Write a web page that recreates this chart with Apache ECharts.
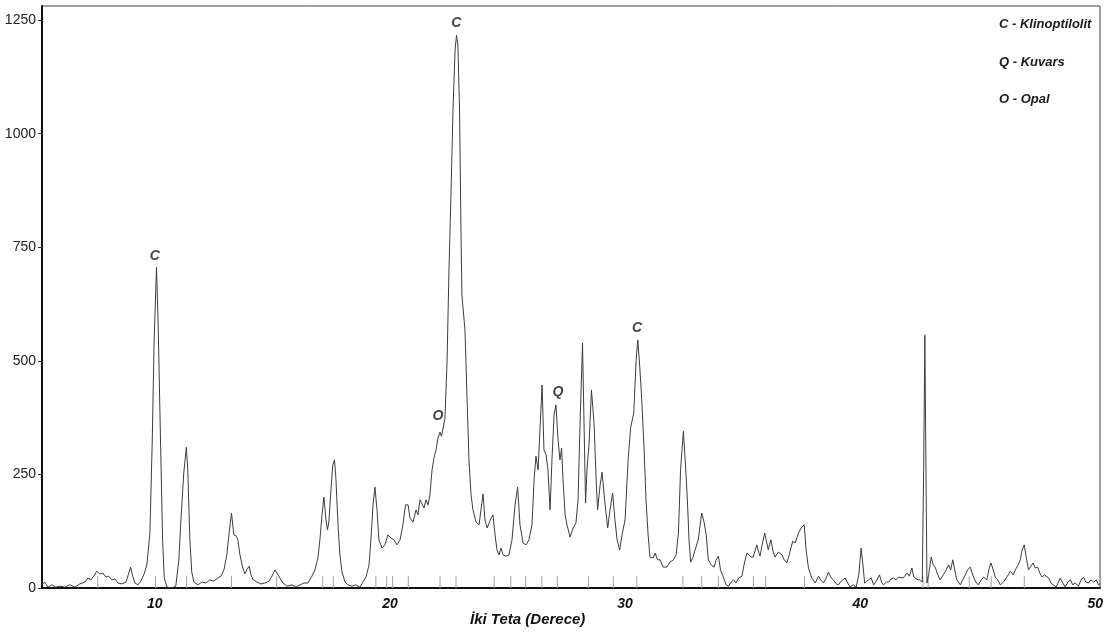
<!DOCTYPE html>
<html>
<head>
<meta charset="utf-8">
<script src="https://cdn.jsdelivr.net/npm/echarts@6/dist/echarts.min.js"></script>
<style>
html,body{margin:0;padding:0;background:#fff;}
#chart{width:1110px;height:635px;}
</style>
</head>
<body>
<div id="chart"></div>
<script>
// ---- data (2-theta in degrees, intensity in counts) ----
const twoTheta = [
5.19,5.32,5.45,5.62,5.79,5.96,6.17,6.38,6.6,6.81,7.02,7.15,7.28,7.4,7.53,7.66,7.79,7.91,8.04,8.17,8.3,8.43,8.6,8.77,8.85,8.97,9.06,9.15,9.28,9.4,9.53,9.66,9.79,9.89,9.97,10.07,10.14,10.24,10.33,10.4,10.51,10.72,10.89,11.02,11.11,11.23,11.34,11.4,11.49,11.57,11.66,11.83,12.0,12.17,12.34,12.51,12.68,12.81,12.94,13.06,13.15,13.26,13.36,13.47,13.53,13.62,13.74,13.83,13.91,14.01,14.09,14.18,14.34,14.51,14.68,14.85,14.98,15.11,15.19,15.32,15.45,15.62,15.83,16.0,16.17,16.34,16.51,16.68,16.81,16.94,17.02,17.11,17.19,17.28,17.34,17.4,17.49,17.57,17.64,17.7,17.79,17.87,17.96,18.09,18.21,18.38,18.55,18.72,18.85,18.98,19.11,19.19,19.28,19.36,19.45,19.53,19.66,19.79,19.91,20.04,20.17,20.3,20.43,20.55,20.66,20.77,20.85,20.98,21.11,21.19,21.28,21.36,21.45,21.53,21.62,21.7,21.79,21.87,21.96,22.04,22.13,22.19,22.26,22.34,22.43,22.51,22.6,22.68,22.77,22.83,22.89,22.96,23.02,23.06,23.13,23.19,23.28,23.36,23.45,23.53,23.66,23.79,23.87,23.96,24.04,24.13,24.21,24.3,24.38,24.47,24.55,24.64,24.72,24.81,24.94,25.06,25.19,25.32,25.43,25.53,25.66,25.79,25.91,26.04,26.13,26.21,26.3,26.38,26.47,26.55,26.64,26.72,26.81,26.89,26.98,27.06,27.15,27.23,27.3,27.36,27.45,27.53,27.66,27.79,27.91,28.0,28.09,28.19,28.26,28.32,28.38,28.47,28.57,28.68,28.77,28.83,28.94,29.02,29.13,29.26,29.36,29.47,29.57,29.66,29.77,29.87,30.0,30.13,30.24,30.37,30.47,30.54,30.62,30.71,30.81,30.89,30.98,31.06,31.19,31.28,31.38,31.49,31.62,31.77,31.91,32.06,32.17,32.27,32.36,32.48,32.57,32.65,32.72,32.79,32.89,32.98,33.11,33.26,33.36,33.45,33.54,33.66,33.79,33.87,33.97,34.06,34.18,34.3,34.4,34.51,34.61,34.72,34.83,34.97,35.06,35.18,35.25,35.36,35.45,35.6,35.68,35.74,35.83,35.94,36.0,36.09,36.2,36.3,36.38,36.52,36.67,36.77,36.88,36.98,37.13,37.23,37.38,37.49,37.62,37.7,37.8,37.94,38.09,38.23,38.32,38.44,38.55,38.65,38.77,38.86,38.98,39.08,39.19,39.36,39.47,39.57,39.7,39.83,39.94,40.04,40.13,40.19,40.28,40.35,40.47,40.57,40.68,40.82,40.91,40.99,41.11,41.21,41.32,41.42,41.53,41.62,41.7,41.83,41.99,42.09,42.2,42.28,42.34,42.45,42.55,42.64,42.7,42.75,42.79,42.84,42.91,43.02,43.11,43.19,43.3,43.4,43.54,43.66,43.76,43.85,43.94,44.04,44.11,44.26,44.36,44.47,44.57,44.68,44.82,44.94,45.03,45.15,45.25,45.39,45.47,45.56,45.66,45.74,45.85,45.96,46.09,46.17,46.3,46.38,46.51,46.6,46.72,46.81,46.89,46.98,47.06,47.16,47.26,47.35,47.45,47.55,47.64,47.73,47.83,47.91,48.02,48.11,48.21,48.34,48.43,48.51,48.62,48.72,48.83,48.94,49.04,49.15,49.28,49.4,49.5,49.6,49.72,49.81,49.93,50.04,50.14,50.21
];
const intensity = [
7,13,2,7,2,4,2,7,2,9,13,22,18,26,37,31,33,24,26,18,20,11,9,13,26,46,26,11,7,15,29,51,121,326,546,706,583,326,106,22,2,0,4,62,150,253,310,260,106,35,13,7,13,11,18,15,22,26,40,73,117,165,117,114,106,73,44,31,40,48,29,18,13,9,11,15,26,40,37,22,11,4,7,2,7,11,11,26,40,68,106,161,200,150,128,145,216,271,282,242,139,73,35,13,7,4,7,2,13,24,51,106,183,222,172,106,88,95,117,110,106,95,106,139,183,183,154,145,172,161,194,198,176,194,183,205,260,286,304,330,343,334,352,374,502,700,876,1052,1184,1217,1195,1052,788,645,642,568,414,282,205,172,145,139,172,207,150,132,132,154,161,117,84,73,88,73,70,73,106,183,222,139,99,95,106,139,238,290,260,348,447,304,293,260,172,282,381,403,326,282,308,238,161,139,112,132,143,194,370,539,348,187,260,319,436,363,238,172,227,255,194,132,172,209,150,106,84,117,150,282,354,385,502,546,491,414,304,194,117,68,66,77,62,62,46,46,57,62,73,121,260,345,271,194,106,57,68,84,106,165,145,117,62,51,46,62,70,40,24,7,4,13,18,11,22,26,51,77,79,68,68,95,79,70,95,121,106,84,106,79,68,79,73,62,55,73,103,99,121,132,139,84,44,22,11,26,18,11,22,35,22,18,9,7,15,22,11,2,7,2,29,88,44,11,15,13,22,7,15,29,13,7,13,13,20,22,18,24,24,22,33,26,44,24,22,18,18,13,260,557,555,11,29,68,51,46,29,18,29,40,51,40,62,35,18,7,18,29,40,46,24,11,7,18,24,18,40,55,40,24,18,7,13,13,29,37,29,40,51,62,84,95,68,40,48,55,44,46,33,24,29,33,22,11,7,2,13,22,11,2,13,18,7,11,4,18,24,13,11,18,13,18,7,9
];
// reference stick positions (2-theta) and their height (counts)
const stickTheta = [7.57,10.03,11.35,13.26,15.18,17.14,17.59,19.4,19.86,20.11,20.78,22.13,22.81,24.43,25.14,25.77,26.46,27.12,28.44,29.5,30.5,32.46,33.26,33.97,35.46,35.98,37.63,42.67,42.89,44.64,45.57,46.98];
const stickHeight = 26;
// phase labels above peaks
const peakText = ['C','C','O','Q','C'];
const peakTheta = [10.0,22.82,22.04,27.15,30.51];
const peakCounts = [730,1243,378,431,572];
// legend lines
const phaseLegend = ['C - Klinoptilolit','Q - Kuvars','O - Opal'];
// axis ticks
const xTicks = [10,20,30,40,50];
const yTicks = [0,250,500,750,1000,1250];
const xTitle = 'İki Teta (Derece)';

const FONT = '"Liberation Sans", Arial, sans-serif';
const chart = echarts.init(document.getElementById('chart'), null, {renderer:'canvas'});

const lineData = twoTheta.map((t,i)=>[t,intensity[i]]);
const stickData = stickTheta.map(t=>[t,stickHeight]);
const peakData = peakText.map((s,i)=>[peakTheta[i],peakCounts[i],s]);

const graphics = phaseLegend.map((s,i)=>({
  type:'text', left:999, top:18+i*37.5,
  style:{text:s, font:'italic bold 13px '+FONT, fill:'#1a1a1a'}
}));
graphics.push({type:'text', left:470, top:612,
  style:{text:xTitle, font:'italic bold 15px '+FONT, fill:'#111'}});

chart.setOption({
  animation:false,
  backgroundColor:'#fff',
  grid:{left:42,right:10,top:6,bottom:47,show:true,borderColor:'#444',borderWidth:1,backgroundColor:'#fff'},
  xAxis:{
    type:'value', min:5.2, max:50.2,
    axisLine:{show:true,lineStyle:{color:'#111',width:2}},
    axisTick:{show:false},
    splitLine:{show:false},
    axisLabel:{customValues:xTicks, margin:9, color:'#111', fontFamily:FONT, fontSize:14, fontStyle:'italic', fontWeight:'bold',
      formatter:v=>String(v)}
  },
  yAxis:{
    type:'value', min:0, max:1281,
    axisLine:{show:true,lineStyle:{color:'#111',width:2}},
    axisTick:{show:true,length:4,customValues:yTicks,lineStyle:{color:'#333'}},
    splitLine:{show:false},
    axisLabel:{customValues:yTicks, margin:6, color:'#222', fontFamily:FONT, fontSize:14,
      formatter:v=>String(v)}
  },
  series:[
    {type:'bar', data:stickData, barWidth:1, itemStyle:{color:'#a0a0a0'}, z:1, silent:true},
    {type:'line', data:lineData, showSymbol:false, symbol:'none', lineStyle:{color:'#3c3c3c',width:1}, z:3},
    {type:'scatter', data:peakData, symbolSize:1, itemStyle:{color:'rgba(0,0,0,0)'}, z:4,
      label:{show:true, position:'inside', formatter:p=>p.value[2], color:'#111',
        fontFamily:FONT, fontSize:14, fontStyle:'italic', fontWeight:'bold'}}
  ],
  graphic:graphics
});
</script>
</body>
</html>
